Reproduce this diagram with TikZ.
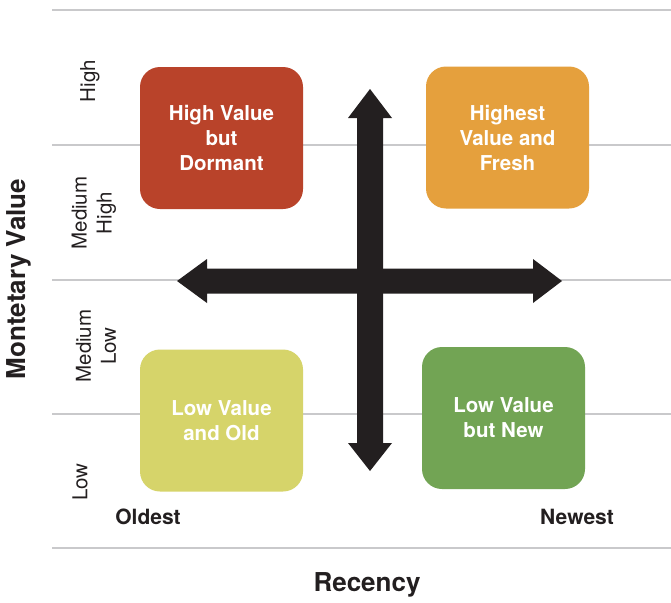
\documentclass[tikz,border=0pt]{standalone}
\usepackage{fontspec}
\setmainfont{TeX Gyre Heros}
\begin{document}
\begin{tikzpicture}[x=1pt,y=-1pt,
  grid/.style={draw=gridgray,line width=2.6pt},
  quad/.style={rounded corners=20pt,minimum width=163pt,minimum height=142pt,inner sep=0pt,
    text=white,align=center,font=\bfseries\fontsize{20.5}{25}\selectfont},
  lvl/.style={rotate=90,align=center,font=\fontsize{20.5}{25}\selectfont,text=labblack},
  axis/.style={font=\bfseries\fontsize{26}{30}\selectfont,text=labblack},
  end/.style={font=\bfseries\fontsize{21}{24}\selectfont,text=labblack}]
\definecolor{gridgray}{HTML}{C9C9CB}
\definecolor{labblack}{HTML}{231F20}
\definecolor{cred}{HTML}{B9432A}
\definecolor{corange}{HTML}{E5A03D}
\definecolor{cyellow}{HTML}{D6D46A}
\definecolor{cgreen}{HTML}{72A454}
\useasboundingbox (0,0) rectangle (671,602);
\fill[white] (0,0) rectangle (671,602);
% grid lines
\foreach \y in {10,145,280,414,548} \draw[grid] (52,\y) -- (671,\y);
% quadrants
\node[quad,fill=cred] (hvd) at (221.5,138) {High Value\\but\\Dormant};
\node[quad,fill=corange] (hvf) at (507.5,137.5) {Highest\\Value and\\Fresh};
\node[quad,fill=cyellow] (lvo) at (221.5,420.5) {Low Value\\and Old};
\node[quad,fill=cgreen] (lvn) at (503.5,418) {Low Value\\but New};
% arrows
\fill[labblack] (370,89) -- (392,118) -- (383,118) -- (383,443) -- (392,443) -- (370,471)
  -- (348,443) -- (357,443) -- (357,118) -- (348,118) -- cycle;
\fill[labblack] (177,281) -- (207,259) -- (207,268.5) -- (533,268.5) -- (533,259) -- (562,281)
  -- (533,303) -- (533,293.5) -- (207,293.5) -- (207,303) -- cycle;
% level labels
\node[lvl] (lh) at (90,81) {High};
\node[lvl] (lmh) at (94,213) {Medium\\High};
\node[lvl] (lml) at (96,346) {Medium\\Low};
\node[lvl] (ll) at (80,482) {Low};
% axis labels
\node[axis,rotate=90] (my) at (19,279) {Montetary Value};
\node[axis] (rx) at (367,585) {Recency};
\node[end] (old) at (148,517) {Oldest};
\node[end] (new) at (577,517) {Newest};
\end{tikzpicture}
\end{document}
